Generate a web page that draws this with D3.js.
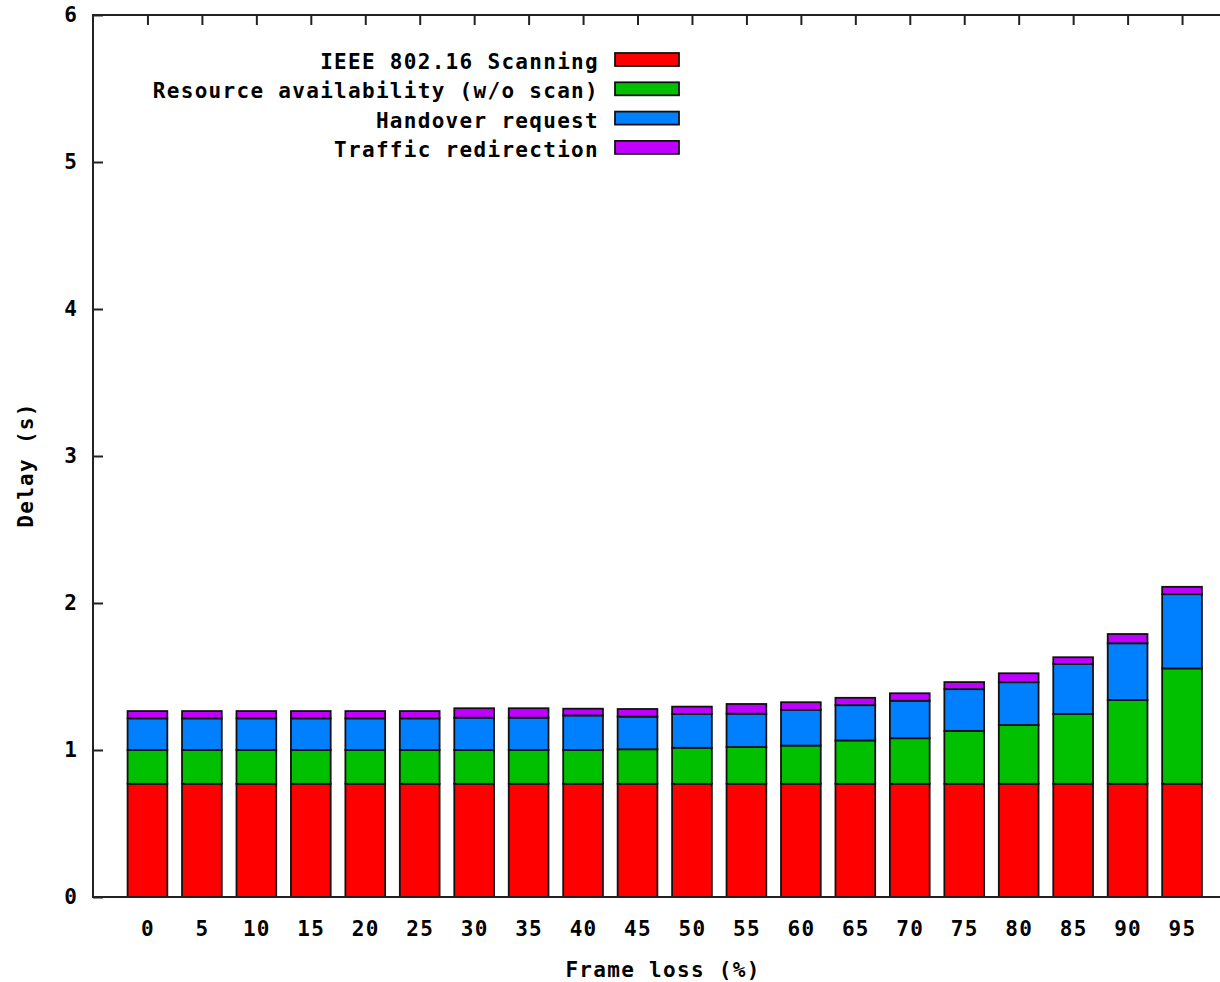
<!DOCTYPE html>
<html>
<head>
<meta charset="utf-8">
<script src="https://cdn.jsdelivr.net/npm/d3@7"></script>
<style>
  html, body { margin: 0; padding: 0; background: #fff; }
  svg { display: block; }
  text { font-family: "DejaVu Sans Mono", "Liberation Mono", monospace; font-weight: bold; fill: #000; }
</style>
</head>
<body>
<svg id="chart" width="1220" height="982"></svg>
<script>
// ---- data ----
const categories = ["0","5","10","15","20","25","30","35","40","45","50","55","60","65","70","75","80","85","90","95"];
const seriesNames = ["IEEE 802.16 Scanning", "Resource availability (w/o scan)", "Handover request", "Traffic redirection"];
const scanning   = [0.77,0.77,0.77,0.77,0.77,0.77,0.77,0.77,0.77,0.77,0.77,0.77,0.77,0.77,0.77,0.77,0.77,0.77,0.77,0.77];
const resource   = [0.23,0.23,0.23,0.23,0.23,0.23,0.23,0.23,0.23,0.235,0.245,0.25,0.26,0.295,0.31,0.36,0.40,0.475,0.57,0.785];
const handover   = [0.215,0.215,0.215,0.215,0.215,0.215,0.22,0.22,0.235,0.222,0.23,0.227,0.243,0.24,0.255,0.284,0.291,0.34,0.386,0.505];
const redirection= [0.05,0.05,0.05,0.05,0.05,0.05,0.064,0.064,0.046,0.052,0.05,0.066,0.052,0.05,0.051,0.048,0.061,0.046,0.063,0.05];
const yTicks = [0,1,2,3,4,5,6];
const xLabel = "Frame loss (%)";
const yLabel = "Delay (s)";

const colors = ["#ff0000", "#00c000", "#0080ff", "#c000ff"];

// ---- layout ----
const pLeft = 93, pTop = 15, pBottom = 897, pRight = 1236.5;
const svg = d3.select("#chart");

const x = d3.scaleLinear().domain([-1, categories.length]).range([pLeft, pRight]);
const y = d3.scaleLinear().domain([0, 6]).range([pBottom, pTop]);
const barW = 0.73;

const rows = categories.map((c, i) => ({
  cat: c, i,
  vals: [scanning[i], resource[i], handover[i], redirection[i]]
}));
const stack = d3.stack().keys([0,1,2,3]).value((d, k) => d.vals[k])(rows);

// bottom ticks (hidden under bars in gnuplot)
svg.append("g").attr("transform", `translate(0,${pBottom})`)
  .call(d3.axisBottom(x).tickValues(d3.range(categories.length)).tickSize(-10).tickFormat((d) => categories[d]).tickPadding(24))
  .call(g => g.select(".domain").remove())
  .call(g => g.selectAll("line").attr("stroke", "#222").attr("stroke-width", 2))
  .call(g => g.selectAll("text").attr("font-size", 21).style("letter-spacing", "1.3px")
      .attr("font-family", "DejaVu Sans Mono").attr("font-weight", "bold").attr("fill", "#000"));

// bars
stack.forEach((layer, k) => {
  svg.append("g").selectAll("rect").data(layer).enter().append("rect")
    .attr("x", d => x(d.data.i - barW / 2))
    .attr("width", d => x(barW) - x(0))
    .attr("y", d => y(d[1]))
    .attr("height", d => y(d[0]) - y(d[1]))
    .attr("fill", colors[k])
    .attr("stroke", "#111")
    .attr("stroke-width", 1.8);
});

// top ticks (mirror)
svg.append("g").attr("transform", `translate(0,${pTop})`)
  .call(d3.axisTop(x).tickValues(d3.range(categories.length)).tickSize(-10).tickFormat(""))
  .call(g => g.select(".domain").remove())
  .call(g => g.selectAll("line").attr("stroke", "#222").attr("stroke-width", 2));

// y axis
svg.append("g").attr("transform", `translate(${pLeft},0)`)
  .call(d3.axisLeft(y).tickValues(yTicks).tickSize(-10).tickPadding(16).tickFormat(d3.format("d")))
  .call(g => g.select(".domain").remove())
  .call(g => g.selectAll("line").attr("stroke", "#222").attr("stroke-width", 2))
  .call(g => g.selectAll("text").attr("font-size", 21)
      .attr("font-family", "DejaVu Sans Mono").attr("font-weight", "bold").attr("fill", "#000"));

// frame
svg.append("path")
  .attr("d", `M${pRight},${pTop}H${pLeft}V${pBottom}H${pRight}`)
  .attr("fill", "none").attr("stroke", "#222").attr("stroke-width", 2);

// axis labels
svg.append("text").attr("x", 663).attr("y", 977).attr("text-anchor", "middle")
  .attr("font-size", 21).style("letter-spacing", "1.3px").text(xLabel);
svg.append("text").attr("transform", "translate(33,465) rotate(-90)").attr("text-anchor", "middle")
  .attr("font-size", 21).style("letter-spacing", "1.3px").text(yLabel);

// legend
const leg = svg.append("g");
seriesNames.forEach((name, k) => {
  const by = 69 + k * 29.3;
  leg.append("text").attr("x", 599).attr("y", by).attr("text-anchor", "end")
    .attr("font-size", 21).style("letter-spacing", "1.3px").text(name);
  leg.append("rect").attr("x", 615).attr("y", by - 16).attr("width", 64).attr("height", 13)
    .attr("fill", colors[k]).attr("stroke", "#111").attr("stroke-width", 1.8);
});
</script>
</body>
</html>
